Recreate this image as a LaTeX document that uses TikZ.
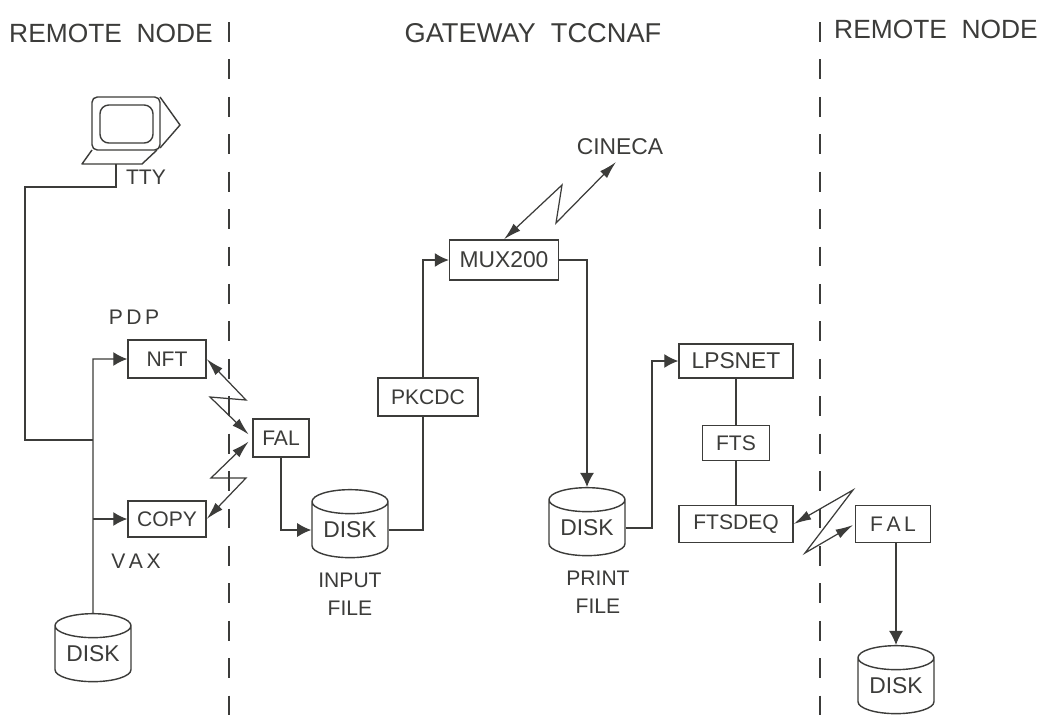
\documentclass[tikz,border=0pt]{standalone}
\usepackage{fontspec}
\setmainfont{Liberation Sans}
\usepackage{xcolor}
\usetikzlibrary{shapes.geometric,arrows.meta}
\definecolor{inkgray}{HTML}{3C3C3A}
\tikzset{
  box/.style={draw=inkgray,line width=0.8pt,inner sep=0pt,text=inkgray,font=\fontsize{12}{14}\selectfont},
  disk/.style={draw=inkgray,line width=0.8pt,cylinder,shape border rotate=90,shape aspect=0.45,inner sep=0pt,minimum width=1.52cm,minimum height=1.36cm,text=inkgray,font=\fontsize{13}{15}\selectfont},
  lab/.style={text=inkgray,font=\fontsize{12}{14}\selectfont,align=center},
  head/.style={text=inkgray,font=\fontsize{15}{17}\selectfont},
  link/.style={draw=inkgray,line width=0.8pt},
  flow/.style={link,-{Latex[length=8pt,width=8pt]}},
  bolt/.style={draw=inkgray,line width=0.7pt,{Latex[length=10pt,width=5.5pt]}-{Latex[length=10pt,width=5.5pt]}},
  border/.style={draw=inkgray,line width=0.9pt,dash pattern=on 11.3pt off 10pt}
}
\begin{document}
\begin{tikzpicture}[x=0.02cm,y=-0.02cm]
\useasboundingbox (0,0) rectangle (1039,718);
\fill[white] (0,0) rectangle (1039,718);
% dashed borders
\coordinate (lefttop) at (229,22); \coordinate (leftend) at (229,718);
\coordinate (righttop) at (820,22); \coordinate (rightend) at (820,718);
\draw[border] (lefttop) -- (leftend);
\draw[border] (righttop) -- (rightend);
% headings
\node[head] (remoteleft) at (111,33) {REMOTE\ \ NODE};
\node[head,font=\fontsize{15.5}{17}\selectfont] (gateway) at (533,33) {GATEWAY\ \ TCCNAF};
\node[head] (remoteright) at (936,29) {REMOTE\ \ NODE};
% terminal
\draw[link,rounded corners=3pt] (92,97) rectangle (160,150);
\draw[link,rounded corners=5pt] (100,105) rectangle (153,143);
\draw[link,line join=round] (160,97) -- (180,125) -- (160,148);
\draw[link,line join=round] (92,150) -- (82,164) -- (142,164) -- (157,150);
\coordinate (tty) at (116,164);
\node[lab] (ttylabel) at (146,177) {TTY};
% boxes
\node[box,minimum width=1.56cm,minimum height=0.76cm] (nft) at (167,359) {NFT};
\node[box,minimum width=1.56cm,minimum height=0.72cm] (copy) at (167,519) {COPY};
\node[box,minimum width=1.12cm,minimum height=0.76cm] (fal) at (281,438) {FAL};
\node[box,minimum width=2.00cm,minimum height=0.76cm] (pkcdc) at (428,397) {PKCDC};
\node[box,minimum width=2.18cm,minimum height=0.80cm,font=\fontsize{13}{15}\selectfont] (mux) at (504,260) {MUX200};
\node[box,minimum width=2.28cm,minimum height=0.68cm,font=\fontsize{13}{15}\selectfont] (lpsnet) at (736,361) {LPSNET};
\node[box,minimum width=1.34cm,minimum height=0.70cm] (fts) at (736,443) {FTS};
\node[box,minimum width=2.28cm,minimum height=0.74cm] (ftsdeq) at (736,524) {FTSDEQ};
\node[box,minimum width=1.50cm,minimum height=0.74cm] (falright) at (893,524) {F\,A\,L};
% disks
\node[disk] (diskleft) at (93,654) {DISK};
\node[disk] (diskinput) at (350,530) {DISK};
\node[disk] (diskprint) at (587,528) {DISK};
\node[disk] (diskright) at (896,686) {DISK};
% labels
\node[lab] (pdp) at (134,317) {P\,D\,P};
\node[lab] (vax) at (136,561) {V\,A\,X};
\node[lab,font=\fontsize{13}{15}\selectfont] (cineca) at (620,147) {CINECA};
\node[lab] (inputfile) at (350,594) {INPUT\\[2pt]FILE};
\node[lab] (printfile) at (598,592) {PRINT\\[2pt]FILE};
% junctions on the left bus
\coordinate (bustop) at (93,359);
\coordinate (busout) at (93,519);
\coordinate (busin) at (93,440);
\coordinate (ttydown) at (116,187);
\coordinate (ttyleft) at (25,187);
\coordinate (ttycorner) at (25,440);
\draw[link] (tty) -- (ttydown) -- (ttyleft) -- (ttycorner) -- (busin);
\draw[flow] (diskleft.north) -- (bustop) -- (nft.west);
\draw[flow] (busout) -- (copy.west);
% connections inside the gateway
\coordinate (pkcdcin) at (423,416);
\coordinate (pkcdcout) at (423,378);
\draw[flow] (fal.south) |- (diskinput.west);
\draw[link] (diskinput.east) -| (pkcdcin);
\draw[flow] (pkcdcout) |- (mux.west);
\draw[flow] (mux.east) -| (diskprint.north);
\coordinate (printup) at (652,361);
\draw[flow] (diskprint.east) -| (printup) -- (lpsnet.west);
\draw[link] (lpsnet.south) -- (fts.north);
\draw[link] (fts.south) -- (ftsdeq.north);
\draw[flow] (falright.south -| diskright.north) -- (diskright.north);
% line links
\coordinate (nftbolta) at (246,400); \coordinate (nftboltb) at (210,397);
\coordinate (copybolta) at (246,478); \coordinate (copyboltb) at (211,478);
\coordinate (cinecaa) at (562,185); \coordinate (cinecab) at (556,223);
\coordinate (cinecaend) at (616,162);
\coordinate (ftsbolta) at (853,490); \coordinate (ftsboltb) at (805,553);
\draw[bolt,shorten >=5*0.02cm] (nft.east) -- (nftbolta) -- (nftboltb) -- (fal.west);
\draw[bolt,shorten >=5*0.02cm] (copy.east) -- (copybolta) -- (copyboltb) -- (fal.west);
\draw[bolt] (mux.north) -- (cinecaa) -- (cinecab) -- (cinecaend);
\draw[bolt,shorten >=2*0.02cm] (ftsdeq.east) -- (ftsbolta) -- (ftsboltb) -- (falright.west);
\end{tikzpicture}
\end{document}
